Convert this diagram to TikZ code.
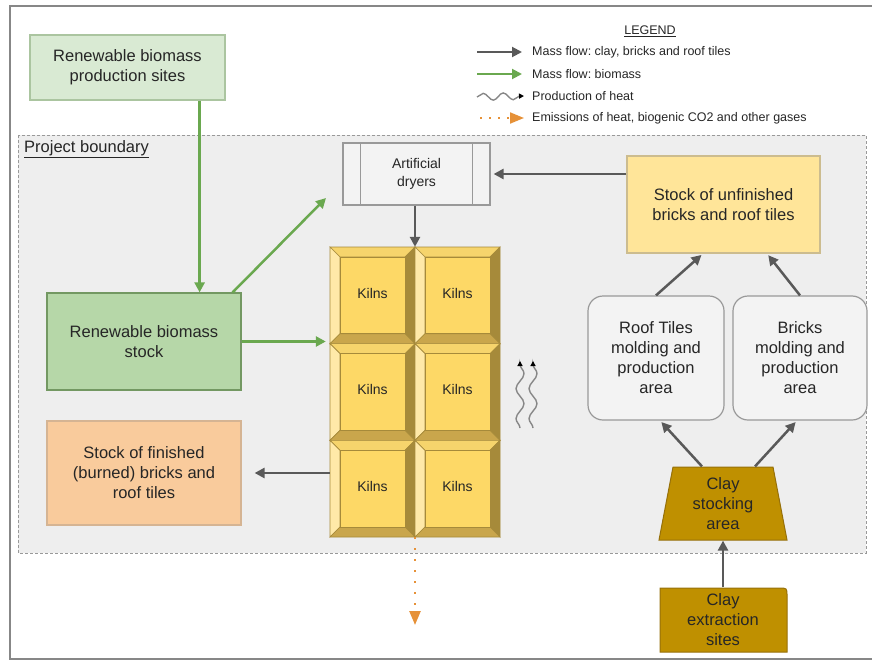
\documentclass[tikz,border=0pt]{standalone}
\usepackage{fontspec}
\setmainfont{Liberation Sans}
\frenchspacing
\usetikzlibrary{positioning,arrows.meta,decorations.pathmorphing}
\definecolor{bkGray}{RGB}{89,89,89}
\definecolor{bkGreen}{RGB}{106,168,79}
\definecolor{bkOrange}{RGB}{230,145,56}
\definecolor{bkFrame}{RGB}{135,135,135}
\definecolor{bkZone}{RGB}{238,238,238}
\definecolor{bkLine}{RGB}{153,153,153}
\definecolor{bkPale}{RGB}{243,243,243}
\definecolor{bkLeaf}{RGB}{217,234,211}
\definecolor{bkLeafDk}{RGB}{182,215,168}
\definecolor{bkPeach}{RGB}{249,203,156}
\definecolor{bkCream}{RGB}{255,229,153}
\definecolor{bkClay}{RGB}{191,144,0}
\definecolor{bkClayDk}{RGB}{150,112,10}
\definecolor{bkFace}{RGB}{253,216,102}
\definecolor{bkTop}{RGB}{246,212,108}
\definecolor{bkLight}{RGB}{255,233,168}
\definecolor{bkDark}{RGB}{166,138,58}
\definecolor{bkMid}{RGB}{201,166,76}
\definecolor{bkText}{RGB}{38,38,38}

\begin{document}
\begin{tikzpicture}[x=1pt, y=-1pt,
  box/.style={draw=bkLine, line width=1.2pt, align=center, inner sep=0pt, text=bkText,
    font=\fontsize{16.5}{20}\selectfont},
  flow/.style={-{Triangle[length=10pt,width=10pt]}, bkGray, line width=2.5pt},
  bioflow/.style={-{Triangle[length=10pt,width=10pt]}, bkGreen, line width=2.5pt},
  heat/.style={-{Triangle[length=5pt,width=5pt,black]}, bkFrame, line width=1.4pt,
    decorate, decoration={snake, amplitude=4pt, segment length=30pt, post length=2pt}},
  gas/.style={-{Triangle[length=14pt,width=11pt]}, bkOrange, line width=2.5pt,
    dash pattern=on 2pt off 9pt},
  kilnbox/.style={inner sep=0pt, text=bkText, font=\fontsize{14}{17}\selectfont},
  lgd/.style={inner sep=0pt, text=bkText, font=\fontsize{12.5}{15}\selectfont}]
  \useasboundingbox (0,0) rectangle (872,661);

  % Frame and project boundary
  \draw[bkFrame, line width=2pt] (872,6) -- (10,6) -- (10,659) -- (872,659);
  \draw[bkLine, fill=bkZone, dash pattern=on 3pt off 2pt] (18,135) rectangle (866,553);
  \node[anchor=west, inner sep=0pt, text=bkText, font=\fontsize{16.5}{20}\selectfont]
    (boundary) at (24,149) {\underline{Project boundary}};

  % Legend
  \node[lgd] (legendtitle) at (650,31) {\underline{LEGEND}};
  \coordinate (lg1a) at (477,52);  \coordinate (lg1b) at (522,52);
  \coordinate (lg2a) at (477,74);  \coordinate (lg2b) at (522,74);
  \coordinate (lg3a) at (477,97);  \coordinate (lg3b) at (524,96);
  \coordinate (lg4a) at (480,118); \coordinate (lg4b) at (524,118);
  \draw[flow, line width=2pt] (lg1a) -- (lg1b);
  \draw[bioflow, line width=2pt] (lg2a) -- (lg2b);
  \draw[heat, decoration={snake, amplitude=3.5pt, segment length=20pt, post length=3pt}] (lg3a) -- (lg3b);
  \draw[gas, line width=2pt, dash pattern=on 2pt off 7pt] (lg4a) -- (lg4b);
  \node[lgd, anchor=west] (lg1) at (532,52) {Mass flow: clay, bricks and roof tiles};
  \node[lgd, anchor=west] (lg2) at (532,74) {Mass flow: biomass};
  \node[lgd, anchor=west] (lg3) at (532,96) {Production of heat};
  \node[lgd, anchor=west] (lg4) at (532,118) {Emissions of heat, biogenic CO2 and other gases};

  % Biomass and finished stock
  \node[box, fill=bkLeaf, draw=bkLeafDk!80!gray, minimum width=195pt, minimum height=65pt]
    (prodsites) at (127.5,67.5) {Renewable biomass\\production sites};
  \node[box, fill=bkLeafDk, draw=bkGreen!60!gray, minimum width=194pt, minimum height=97pt]
    (bmstock) at (144,341.5) {Renewable biomass\\stock};
  \node[box, fill=bkPeach, draw=bkPeach!70!gray, minimum width=194pt, minimum height=104pt]
    (finished) at (144,473) {Stock of finished\\(burned) bricks and\\roof tiles};

  % Dryers
  \node[box, fill=bkPale, minimum width=147pt, minimum height=62pt,
    font=\fontsize{14}{18}\selectfont] (dryers) at (416.5,174) {Artificial\\dryers};
  \draw[bkLine, line width=1.2pt] ([xshift=18pt]dryers.north west) -- ([xshift=18pt]dryers.south west);
  \draw[bkLine, line width=1.2pt] ([xshift=-18pt]dryers.north east) -- ([xshift=-18pt]dryers.south east);

  % Kilns
  \node[minimum width=170pt, minimum height=290pt, inner sep=0pt] (kilns) at (415,392) {};
  \foreach \col in {0,1} {
    \foreach \row in {0,1,2} {
      \pgfmathsetmacro{\kx}{330+85*\col}
      \pgfmathsetmacro{\ky}{247+96.667*\row}
      \begin{scope}[shift={(\kx,\ky)}, draw=bkDark, line width=0.6pt]
        \filldraw[fill=bkTop] (0,0) -- (85,0) -- (75,10) -- (10,10) -- cycle;
        \filldraw[fill=bkLight] (0,0) -- (10,10) -- (10,86.7) -- (0,96.7) -- cycle;
        \filldraw[fill=bkDark] (85,0) -- (85,96.7) -- (75,86.7) -- (75,10) -- cycle;
        \filldraw[fill=bkMid] (0,96.7) -- (10,86.7) -- (75,86.7) -- (85,96.7) -- cycle;
        \filldraw[fill=bkFace] (10,10) rectangle (75,86.7);
        \node[kilnbox] (kiln\col\row) at (42.5,46) {Kilns};
      \end{scope}
    }
  }

  % Right side
  \node[box, fill=bkCream, draw=bkCream!60!gray, minimum width=193pt, minimum height=97pt]
    (unfinished) at (723.5,204.5) {Stock of unfinished\\bricks and roof tiles};
  \node[box, fill=bkPale, rounded corners=15pt, minimum width=136pt, minimum height=124pt]
    (rooftiles) at (656,358) {Roof Tiles\\molding and\\production\\area};
  \node[box, fill=bkPale, rounded corners=15pt, minimum width=134pt, minimum height=124pt]
    (bricks) at (800,358) {Bricks\\molding and\\production\\area};

  % Clay
  \filldraw[fill=bkClay, draw=bkClayDk, line width=1pt] (673,467) -- (773,467) -- (787,540) -- (659,540) -- cycle;
  \node[box, draw=none, text=black!85, minimum width=128pt, minimum height=73pt]
    (claystock) at (723,503.5) {Clay\\stocking\\area};
  \filldraw[fill=bkClay, draw=bkClayDk, line width=1pt] (660,652) -- (660,588) -- (779,588)
    .. controls (787,588) .. (787,596) -- (787,652) -- cycle;
  \node[box, draw=none, text=black!85, minimum width=127pt, minimum height=64pt]
    (extract) at (723,620) {Clay\\extraction\\sites};

  % Biomass flows
  \coordinate (drytip) at (326,198);
  \draw[bioflow] ([xshift=-26pt]prodsites.south east) -- ([xshift=-42pt]bmstock.north east);
  \draw[bioflow] ([xshift=-9pt]bmstock.north east) -- (drytip);
  \draw[bioflow, shorten >=4pt] (bmstock.east) -- (bmstock.east -| kilns.west);

  % Clay, bricks and roof tiles flows
  \draw[flow, shorten >=3pt] (dryers.east -| unfinished.west) -- (dryers.east);
  \draw[flow] (dryers.south -| kilns.north) -- (kilns.north);
  \draw[flow, shorten >=13pt] (finished.east -| kilns.west) -- (finished.east);
  \draw[flow, shorten >=2pt] (rooftiles.north) -- ([xshift=-20.5pt]unfinished.south);
  \draw[flow, shorten >=2pt] (bricks.north) -- ([xshift=43.5pt]unfinished.south);
  \draw[flow, shorten >=2pt] ([xshift=-21pt]claystock.north) -- ([xshift=4pt]rooftiles.south);
  \draw[flow, shorten >=2pt] ([xshift=32pt]claystock.north) -- ([xshift=-3pt]bricks.south);
  \draw[flow] (extract.north) -- (claystock.south);

  % Heat and emissions
  \coordinate (heatAs) at (520,428); \coordinate (heatAe) at (520,361);
  \coordinate (heatBs) at (533,428); \coordinate (heatBe) at (533,361);
  \draw[heat] (heatAs) -- (heatAe);
  \draw[heat] (heatBs) -- (heatBe);
  \coordinate (gasout) at (415,625);
  \draw[gas] (kilns.south) -- (gasout);
\end{tikzpicture}
\end{document}
